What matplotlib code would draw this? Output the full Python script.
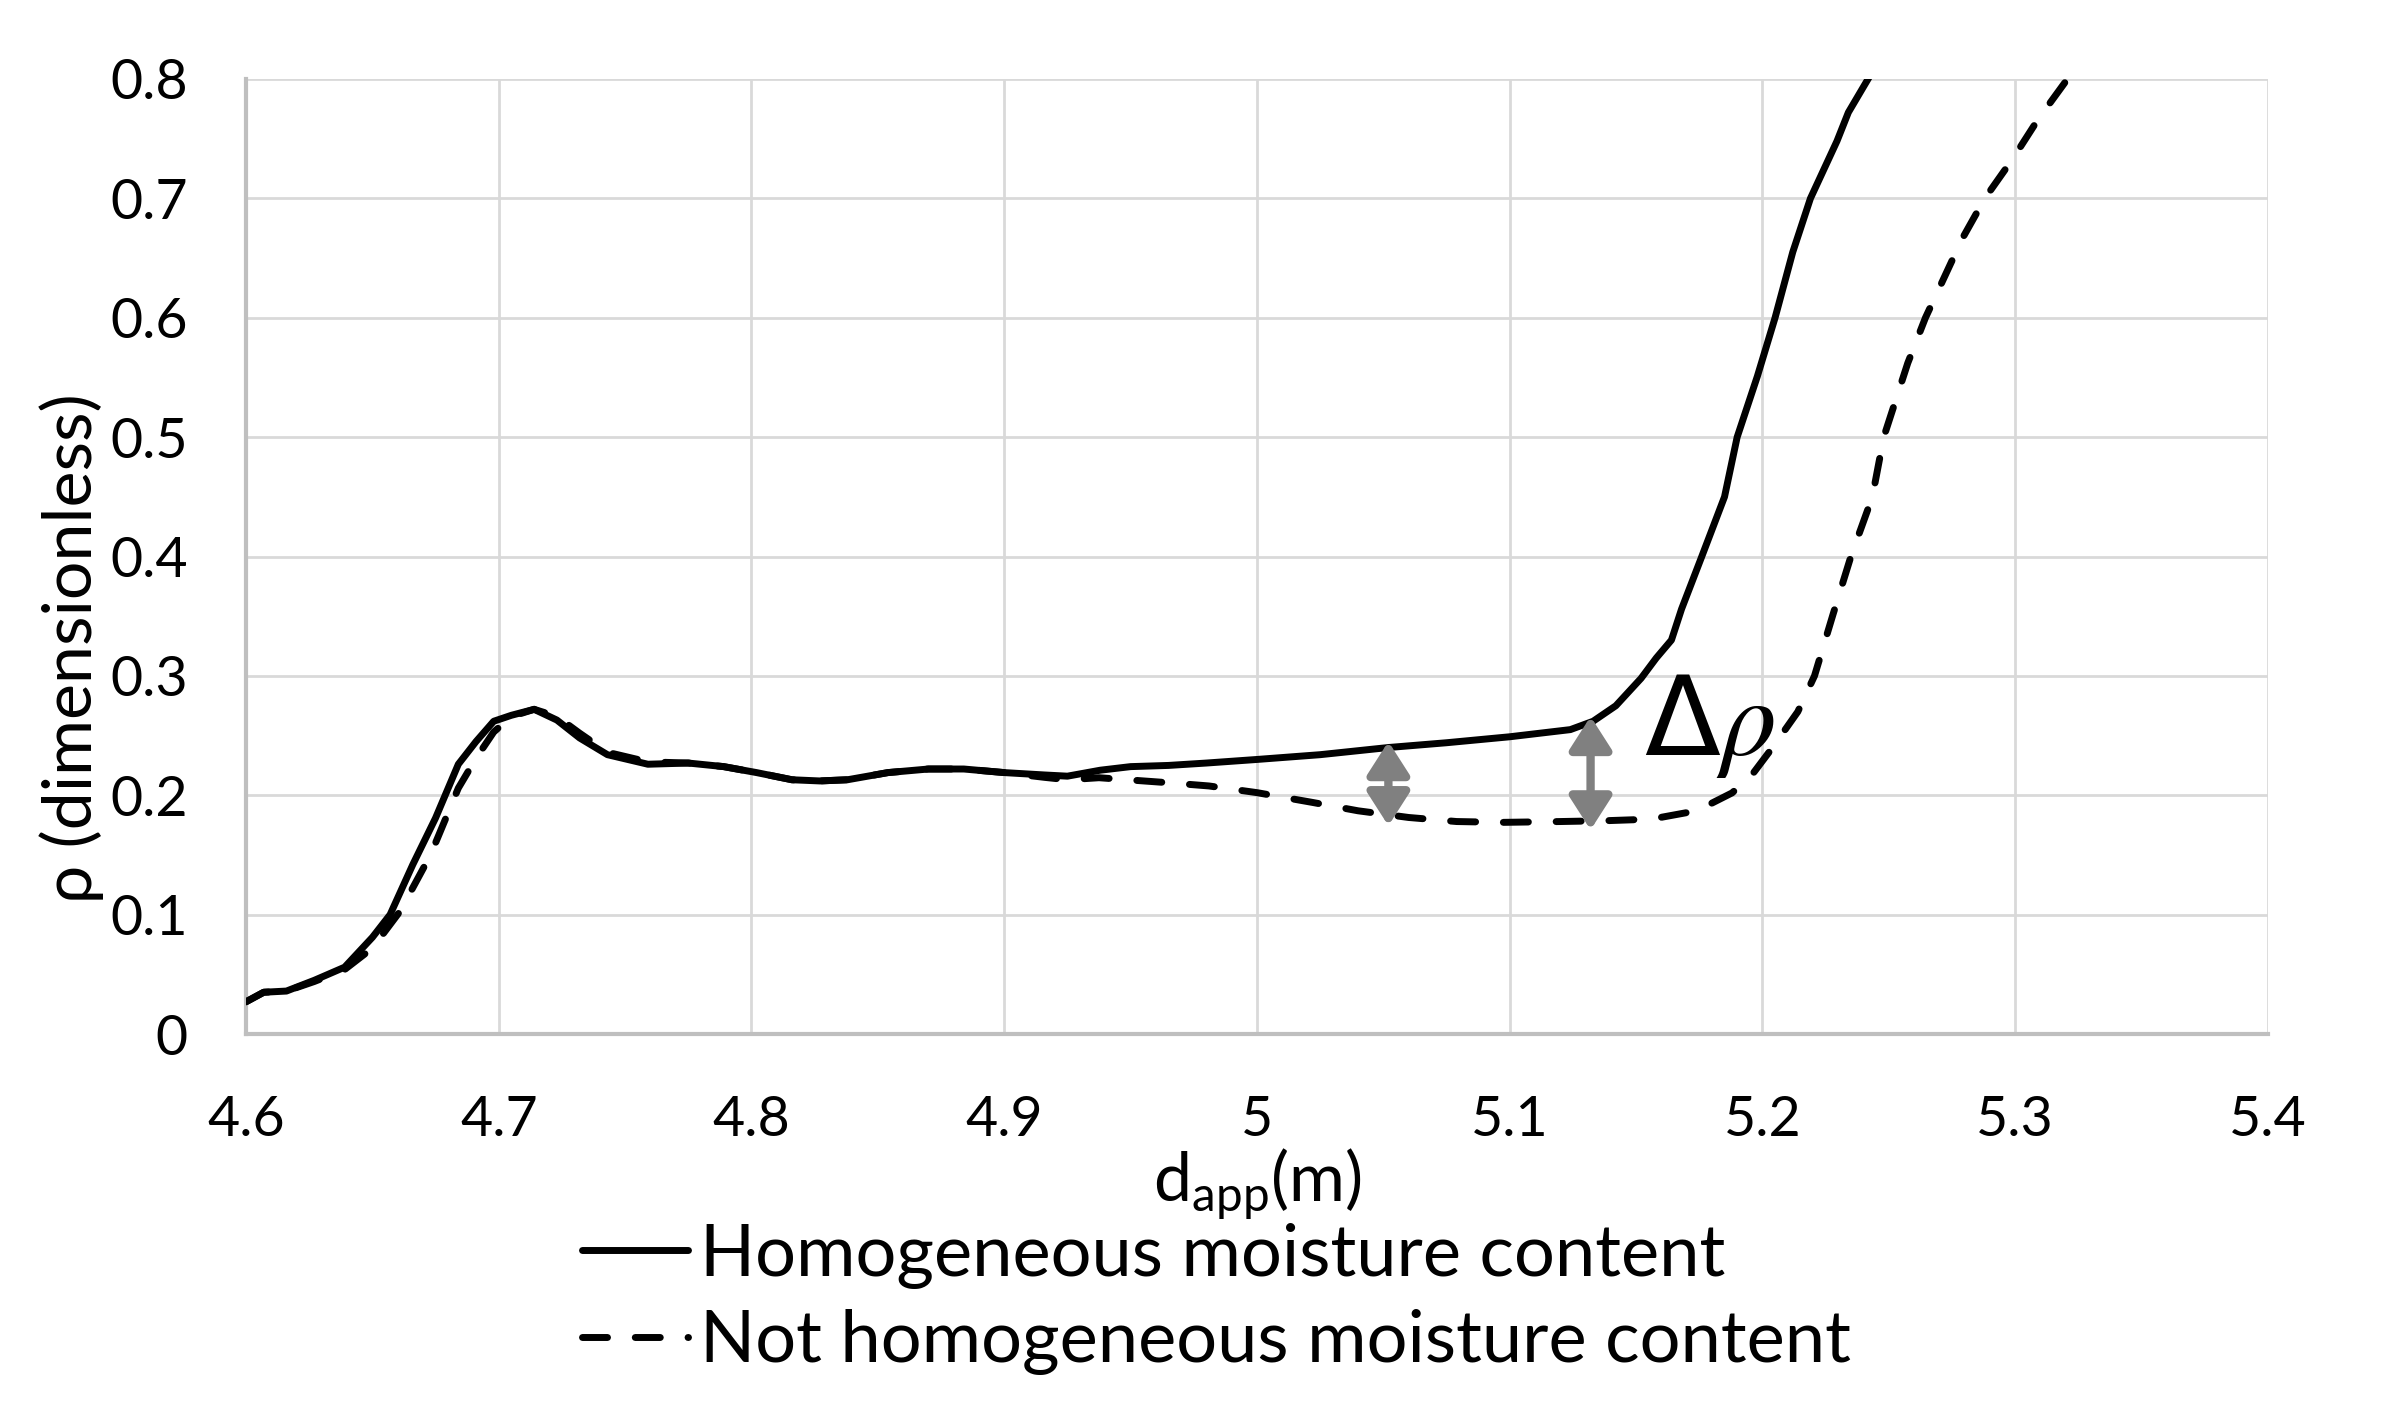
import matplotlib
matplotlib.use("Agg")
import matplotlib.pyplot as plt
from matplotlib.ticker import FuncFormatter, MultipleLocator

# ---------------- data ----------------
hom_x = [4.600, 4.607, 4.616, 4.627, 4.639, 4.650, 4.657, 4.666, 4.675, 4.684,
         4.691, 4.698, 4.705, 4.714, 4.723, 4.732, 4.743, 4.759, 4.775, 4.789,
         4.802, 4.816, 4.827, 4.838, 4.854, 4.870, 4.884, 4.900, 4.916, 4.925,
         4.938, 4.950, 4.965, 4.980, 5.000, 5.025, 5.052, 5.075, 5.100, 5.124,
         5.133, 5.142, 5.152, 5.158, 5.164, 5.168, 5.176, 5.185, 5.190, 5.198,
         5.205, 5.212, 5.219, 5.2295, 5.234, 5.2418, 5.250]
hom_y = [0.027, 0.035, 0.036, 0.045, 0.056, 0.081, 0.100, 0.142, 0.181, 0.226,
         0.245, 0.262, 0.267, 0.272, 0.263, 0.248, 0.234, 0.226, 0.227, 0.224,
         0.219, 0.213, 0.212, 0.213, 0.219, 0.222, 0.222, 0.219, 0.217, 0.216,
         0.221, 0.224, 0.225, 0.227, 0.230, 0.234, 0.240, 0.244, 0.249, 0.255,
         0.262, 0.275, 0.298, 0.315, 0.330, 0.356, 0.400, 0.450, 0.500, 0.551,
         0.600, 0.655, 0.700, 0.748, 0.772, 0.800, 0.830]

nothom_x = [4.600, 4.607, 4.616, 4.627, 4.639, 4.650, 4.661, 4.673, 4.684, 4.691,
            4.698, 4.705, 4.714, 4.723, 4.732, 4.743, 4.759, 4.775, 4.789, 4.802,
            4.816, 4.827, 4.838, 4.854, 4.870, 4.884, 4.900, 4.916, 4.925, 4.9375,
            4.965, 4.981, 5.000, 5.022, 5.040, 5.060, 5.079, 5.097, 5.120, 5.138,
            5.156, 5.174, 5.188, 5.196, 5.204, 5.214, 5.2206, 5.228, 5.235, 5.2435,
            5.248, 5.2575, 5.2645, 5.270, 5.279, 5.288, 5.299, 5.309, 5.3207, 5.330]
nothom_y = [0.027, 0.035, 0.036, 0.044, 0.054, 0.072, 0.103, 0.150, 0.206, 0.231,
            0.253, 0.266, 0.272, 0.266, 0.252, 0.236, 0.228, 0.227, 0.224, 0.219,
            0.213, 0.212, 0.213, 0.219, 0.222, 0.222, 0.219, 0.215, 0.213, 0.2147,
            0.2105, 0.2078, 0.2022, 0.194, 0.187, 0.1814, 0.178, 0.1773, 0.178, 0.1787,
            0.180, 0.187, 0.202, 0.2175, 0.240, 0.270, 0.300, 0.352, 0.400, 0.450,
            0.500, 0.562, 0.600, 0.625, 0.666, 0.700, 0.733, 0.766, 0.800, 0.825]

arrow_x = [5.052, 5.132]
arrow_top = [0.245, 0.266]
arrow_bottom = [0.1745, 0.171]

label_hom = "Homogeneous moisture content"
label_nothom = "Not homogeneous moisture content"
xlabel = r"d$_{\mathregular{app}}$(m)"
ylabel = "ρ (dimensionless)"
delta_label = r"Δ$\mathit{\rho}$"

# ---------------- style ----------------
plt.rcParams['font.family'] = ['Lato', 'DejaVu Sans']
plt.rcParams['mathtext.default'] = 'regular'

fig = plt.figure(figsize=(11.92, 7.04), dpi=200)
ax = fig.add_axes([0.1032, 0.2656, 0.8481, 0.6783])

lw = 2.5
ax.plot(hom_x, hom_y, color='black', lw=lw, solid_capstyle='round',
        solid_joinstyle='round', label=label_hom, zorder=3)
ax.plot(nothom_x, nothom_y, color='black', lw=lw, dashes=(3.6, 4.0),
        dash_capstyle='round', dash_joinstyle='round', label=label_nothom, zorder=3)

for x, t, b in zip(arrow_x, arrow_top, arrow_bottom):
    ax.annotate('', xy=(x, t), xytext=(x, b),
                arrowprops=dict(arrowstyle='<|-|>,head_length=0.5,head_width=0.32',
                                color='#808080', lw=3.0, mutation_scale=20,
                                shrinkA=0, shrinkB=0), zorder=4)

ax.text(5.1530, 0.234, delta_label, fontsize=40, ha='left', va='baseline',
        family='DejaVu Sans', math_fontfamily='stix', zorder=5)

ax.set_xlim(4.6, 5.4)
ax.set_ylim(0, 0.8)
ax.xaxis.set_major_locator(MultipleLocator(0.1))
ax.yaxis.set_major_locator(MultipleLocator(0.1))
fmt = FuncFormatter(lambda v, p: f"{round(v, 2):g}")
ax.xaxis.set_major_formatter(fmt)
ax.yaxis.set_major_formatter(fmt)

ax.grid(True, color='#d9d9d9', lw=1.0, zorder=0)
ax.set_axisbelow(True)
for s in ['top', 'right']:
    ax.spines[s].set_visible(False)
for s in ['left', 'bottom']:
    ax.spines[s].set_color('#bfbfbf')
    ax.spines[s].set_linewidth(1.5)
ax.tick_params(length=0, labelsize=20, colors='black')
ax.tick_params(axis='x', pad=22)
ax.tick_params(axis='y', pad=21)

ax.set_xlabel(xlabel, fontsize=24.5, labelpad=0)
ax.set_ylabel(ylabel, fontsize=24.5)
ax.yaxis.set_label_coords(-0.070, 0.404)

leg = fig.legend(loc='center left', bbox_to_anchor=(0.229, 0.0775),
                 frameon=False, fontsize=26, handlelength=1.47,
                 handletextpad=0.17, labelspacing=0.28, borderpad=0)

fig.savefig('out.png', dpi=200)
